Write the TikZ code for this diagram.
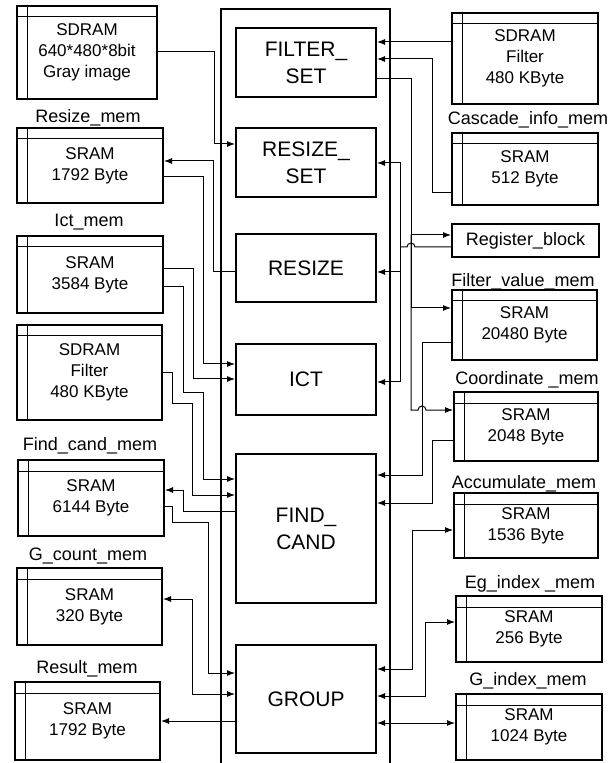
\documentclass[tikz,border=0pt]{standalone}
\usepackage{fontspec}
\setmainfont{Liberation Sans}
\usetikzlibrary{arrows.meta}

\begin{document}
\begin{tikzpicture}[x=0.5pt, y=-0.5pt,
  mem/.style={draw, line width=1pt, inner sep=0pt, align=center,
    font=\fontsize{8.5}{10.5}\selectfont,
    path picture={
      \draw[line width=0.5pt] ([yshift=-5.5pt]path picture bounding box.north west) -- ([yshift=-5.5pt]path picture bounding box.north east);
      \draw[line width=0.5pt] ([xshift=5pt]path picture bounding box.north west) -- ([xshift=5pt]path picture bounding box.south west);
    }},
  blk/.style={draw, line width=1pt, inner sep=0pt, minimum width=70pt, align=center,
    font=\fontsize{10.5}{13.5}\selectfont},
  regbox/.style={draw, line width=1pt, inner sep=0pt, font=\fontsize{9}{11}\selectfont},
  lbl/.style={anchor=base, font=\fontsize{9}{11}\selectfont},
  wire/.style={line width=0.5pt},
  arr/.style={wire, -{Latex[length=4pt,width=3pt]}},
  dbl/.style={wire, {Latex[length=4pt,width=3pt]}-{Latex[length=4pt,width=3pt]}}]

\useasboundingbox (0,0) rectangle (608,763);

% === Middle: controller frame and blocks ===
\draw[line width=0.6pt] (221,763) |- (390,9) -- (390,763);

\node[blk, minimum height=34.5pt] (fset)   at (306,62.5)  {FILTER\_\\SET};
\node[blk, minimum height=34.5pt] (rsset)  at (306,162.5) {RESIZE\_\\SET};
\node[blk, minimum height=34pt]   (resize) at (306,268)   {RESIZE};
\node[blk, minimum height=35.5pt] (ict)    at (306,379.5) {ICT};
\node[blk, minimum height=74.5pt] (fcand)  at (306,528.5) {FIND\_\\CAND};
\node[blk, minimum height=54pt]   (group)  at (306,699)   {GROUP};

% === Left: memories ===
\node[mem, minimum width=70pt, minimum height=46.5pt] (gray) at (87,52.5) {SDRAM\\640*480*8bit\\Gray image};

\node[lbl] at (88,123) {Resize\_mem};
\node[mem, minimum width=73pt, minimum height=37.5pt] (rsmem) at (90,165.5) {SRAM\\1792 Byte};

\node[lbl] at (89,227) {Ict\_mem};
\node[mem, minimum width=73pt, minimum height=38.5pt] (ictmem) at (90,274.5) {SRAM\\3584 Byte};

\node[mem, minimum width=72.5pt, minimum height=47.5pt] (lfilt) at (89.5,372.5) {SDRAM\\Filter\\480 KByte};

\node[lbl] at (90,450) {Find\_cand\_mem};
\node[mem, minimum width=73pt, minimum height=38pt] (fcmem) at (91,498) {SRAM\\6144 Byte};

\node[lbl] at (88,560) {G\_count\_mem};
\node[mem, minimum width=72.5pt, minimum height=38.5pt] (gcmem) at (89.5,606.5) {SRAM\\320 Byte};

\node[lbl] at (87,673) {Result\_mem};
\node[mem, minimum width=72.5pt, minimum height=39pt] (resmem) at (87.5,721) {SRAM\\1792 Byte};

% === Right: memories and registers ===
\node[mem, minimum width=73pt, minimum height=45.5pt] (rfilt) at (525,58.5) {SDRAM\\Filter\\480 KByte};

\node[lbl] at (528,125) {Cascade\_info\_mem};
\node[mem, minimum width=73pt, minimum height=36pt] (casc) at (525,169) {SRAM\\512 Byte};

\node[regbox, minimum width=73.5pt, minimum height=16.5pt] (reg) at (525.5,240.5) {Register\_block};

\node[lbl] at (523,287) {Filter\_value\_mem};
\node[mem, minimum width=72.5pt, minimum height=35pt] (fval) at (524.5,325) {SRAM\\20480 Byte};

\node[lbl] at (527,385) {Coordinate \_mem};
\node[mem, minimum width=72pt, minimum height=34.5pt] (coord) at (526,426.5) {SRAM\\2048 Byte};

\node[lbl] at (524,488) {Accumulate\_mem};
\node[mem, minimum width=72pt, minimum height=32.5pt] (accu) at (526,525.5) {SRAM\\1536 Byte};

\node[lbl] at (530,588) {Eg\_index \_mem};
\node[mem, minimum width=73pt, minimum height=33pt] (egidx) at (529,629) {SRAM\\256 Byte};

\node[lbl] at (528,685) {G\_index\_mem};
\node[mem, minimum width=73pt, minimum height=33pt] (gidx) at (529,727) {SRAM\\1024 Byte};

% --- left wires ---
\draw[arr] (gray.east |- 0,52) -| (214,144) -- (rsset.west |- 0,144);
\draw[arr] (resize.west |- 0,272) -| (213,161) -- (rsmem.east |- 0,161);
\draw[arr] (rsmem.east |- 0,177) -| (203,364) -- (ict.west |- 0,364);
\draw[arr] (ictmem.east |- 0,269) -| (193,379) -- (ict.west |- 0,379);
\draw[arr] (ictmem.east |- 0,287) -| (183,393) -| (203,479) -- (fcand.west |- 0,479);
\draw[arr] (lfilt.east |- 0,373) -| (172,403) -| (192,495) -- (fcand.west |- 0,495);
\draw[arr] (fcand.west |- 0,511) -| (183,490) -- (fcmem.east |- 0,490);
\draw[arr] (fcmem.east |- 0,506) -| (172,522) -| (208,673) -- (group.west |- 0,673);
\draw[dbl] (gcmem.east |- 0,599) -| (192,694) -- (group.west |- 0,694);
\draw[arr] (group.west |- 0,721) -- (resmem.east |- 0,721);

% --- right wires ---
\draw[arr] (rfilt.west |- 0,42) -- (fset.east |- 0,42);
\draw[arr] (casc.west |- 0,193) -| (432,59) -- (fset.east |- 0,59);

% FILTER_SET output bus
\coordinate (fsbus) at (411,235);
\draw[arr] (fset.east |- 0,79) -| (fsbus) -- (reg.west |- fsbus);
\draw[arr] (fsbus) |- (fval.west |- 0,308);
\draw[arr] (fsbus) -- (411,410) -- (418,410) arc[start angle=180, end angle=0, radius=2pt] -- (coord.west |- 0,410);

% Register_block output bus (hops over the FILTER_SET bus)
\coordinate (regbus) at (400,247);
\draw[wire] (reg.west |- regbus) -- (415,247) arc[start angle=0, end angle=180, radius=2pt] -- (regbus);
\draw[arr] (regbus) |- (rsset.east |- 0,163);
\draw[arr] (regbus) |- (resize.east |- 0,272);
\draw[arr] (regbus) |- (ict.east |- 0,382);

\draw[arr] (fval.west |- 0,343) -| (422,475) -- (fcand.east |- 0,475);
\draw[arr] (coord.west |- 0,440) -| (432,503) -- (fcand.east |- 0,503);
\draw[dbl] (accu.west |- 0,530) -| (412,669) -- (group.east |- 0,669);
\draw[dbl] (egidx.west |- 0,622) -| (425,696) -- (group.east |- 0,696);
\draw[dbl] (gidx.west |- 0,723) -- (group.east |- 0,723);

\end{tikzpicture}
\end{document}
